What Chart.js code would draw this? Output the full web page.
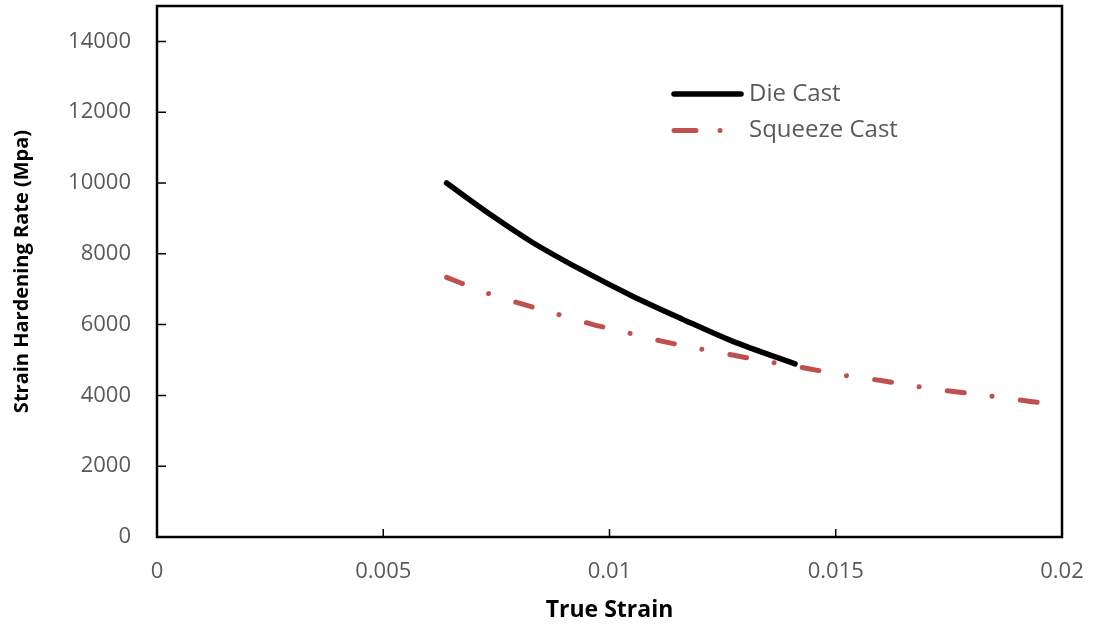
<!DOCTYPE html>
<html>
<head>
<meta charset="utf-8">
<title>Strain Hardening Rate</title>
<script src="https://cdn.jsdelivr.net/npm/chart.js@4.4.1/dist/chart.umd.min.js"></script>
<style>
    body { margin: 0; background: #fff; }
    #wrap { width: 1093px; height: 626px; }
</style>
</head>
<body>
<div id="wrap"><canvas id="myChart"></canvas></div>
<script>
// values
const dieStrain = [0.0064, 0.0074, 0.0083, 0.0094, 0.0105, 0.0116, 0.0127, 0.0141];
const dieRate = [10000, 9080, 8320, 7530, 6810, 6160, 5540, 4890];

const squeezeStrain = [0.0064, 0.0073, 0.0081, 0.0089, 0.0096, 0.0104, 0.0112, 0.0120, 0.0128,
    0.0136, 0.0144, 0.0152, 0.0160, 0.0168, 0.0176, 0.0185, 0.0193, 0.0200];
const squeezeRate = [7335, 6890, 6570, 6275, 6015, 5770, 5520, 5315, 5120,
    4930, 4755, 4565, 4420, 4250, 4110, 3970, 3830, 3710];

const xTickLabels = ['0', '0.005', '0.01', '0.015', '0.02'];
const yTickLabels = ['0', '2000', '4000', '6000', '8000', '10000', '12000', '14000'];

const seriesNames = ['Die Cast', 'Squeeze Cast'];
const red = 'rgb(192, 80, 77)';
const squeezeDash = [17, 28, 0.01, 28.5];

function toPoints(xs, ys) {
    return xs.map((x, i) => ({ x: x, y: ys[i] }));
}

// fixed axis box, no extra label overflow padding
function fixBox(size, horizontal) {
    return s => {
        if (horizontal) s.height = size; else s.width = size;
        s.paddingTop = 0;
        s.paddingBottom = 0;
        s.paddingLeft = 0;
        s.paddingRight = 0;
    };
}

// ticks exactly at the label values
function setTicks(labels) {
    return s => { s.ticks = labels.map(l => ({ value: Number(l) })); };
}

// box around the plot with inward tick marks
const framePlugin = {
    id: 'frame',
    afterDatasetsDraw(chart) {
        const ctx = chart.ctx;
        const a = chart.chartArea;
        const xs = chart.scales.x;
        const ys = chart.scales.y;
        ctx.save();
        ctx.strokeStyle = '#000';
        ctx.lineWidth = 2.5;
        ctx.strokeRect(a.left, a.top, a.right - a.left, a.bottom - a.top);
        ctx.lineWidth = 1.5;
        ctx.beginPath();
        xs.ticks.forEach(t => {
            const px = xs.getPixelForValue(t.value);
            ctx.moveTo(px, a.bottom);
            ctx.lineTo(px, a.bottom - 8);
        });
        ys.ticks.forEach(t => {
            const py = ys.getPixelForValue(t.value);
            ctx.moveTo(a.left, py);
            ctx.lineTo(a.left + 9, py);
        });
        ctx.stroke();
        ctx.restore();
    }
};

// legend sitting inside the plot, top right
const legendPlugin = {
    id: 'innerLegend',
    afterDraw(chart) {
        const ctx = chart.ctx;
        ctx.save();
        ctx.lineCap = 'round';
        ctx.lineWidth = 5.5;
        ctx.strokeStyle = '#000';
        ctx.beginPath();
        ctx.moveTo(674, 94);
        ctx.lineTo(741, 94);
        ctx.stroke();

        ctx.lineWidth = 5;
        ctx.strokeStyle = red;
        ctx.setLineDash([22, 24, 0.01, 30]);
        ctx.beginPath();
        ctx.moveTo(674, 130.5);
        ctx.lineTo(741, 130.5);
        ctx.stroke();
        ctx.setLineDash([]);

        ctx.fillStyle = '#595959';
        ctx.font = '24px "Open Sans"';
        ctx.textBaseline = 'middle';
        ctx.fillText(seriesNames[0], 749, 94);
        ctx.fillText(seriesNames[1], 749, 130);
        ctx.restore();
    }
};

const data = {
    datasets: [{
        label: seriesNames[0],
        data: toPoints(dieStrain, dieRate),
        borderColor: '#000',
        borderWidth: 5.5,
        borderCapStyle: 'round',
        showLine: true,
        pointRadius: 0,
        cubicInterpolationMode: 'monotone'
    }, {
        label: seriesNames[1],
        data: toPoints(squeezeStrain, squeezeRate),
        borderColor: red,
        borderWidth: 5,
        borderCapStyle: 'round',
        borderDash: squeezeDash,
        showLine: true,
        pointRadius: 0,
        cubicInterpolationMode: 'monotone'
    }]
};

const config = {
    type: 'scatter',
    data: data,
    options: {
        responsive: true,
        maintainAspectRatio: false,
        animation: false,
        layout: {
            padding: { left: 0, top: 6, right: 31, bottom: 0 }
        },
        plugins: {
            legend: { display: false },
            tooltip: { enabled: false }
        },
        scales: {
            x: {
                type: 'linear',
                min: 0,
                max: 0.02,
                bounds: 'data',
                afterFit: fixBox(89, true),
                afterBuildTicks: setTicks(xTickLabels),
                grid: { display: false, drawTicks: false },
                border: { display: false },
                ticks: {
                    padding: 22,
                    color: '#595959',
                    font: { family: 'Open Sans', size: 22 },
                    callback: (v, i) => xTickLabels[i]
                },
                title: {
                    display: true,
                    text: 'True Strain',
                    color: '#000',
                    font: { family: 'Open Sans', size: 23, weight: 'bold' },
                    padding: { top: 2, bottom: 2 }
                }
            },
            y: {
                min: 0,
                max: 15000,
                bounds: 'data',
                afterFit: fixBox(157, false),
                afterBuildTicks: setTicks(yTickLabels),
                grid: { display: false, drawTicks: false },
                border: { display: false },
                ticks: {
                    padding: 26,
                    color: '#595959',
                    font: { family: 'Open Sans', size: 22 },
                    callback: (v, i) => yTickLabels[i]
                },
                title: {
                    display: true,
                    text: 'Strain Hardening Rate (Mpa)',
                    color: '#000',
                    font: { family: 'Open Sans', size: 20, weight: 'bold' },
                    padding: { top: 10, bottom: 10 }
                }
            }
        }
    },
    plugins: [framePlugin, legendPlugin]
};

const myChart = new Chart(
    document.getElementById('myChart'),
    config
);
</script>
</body>
</html>
